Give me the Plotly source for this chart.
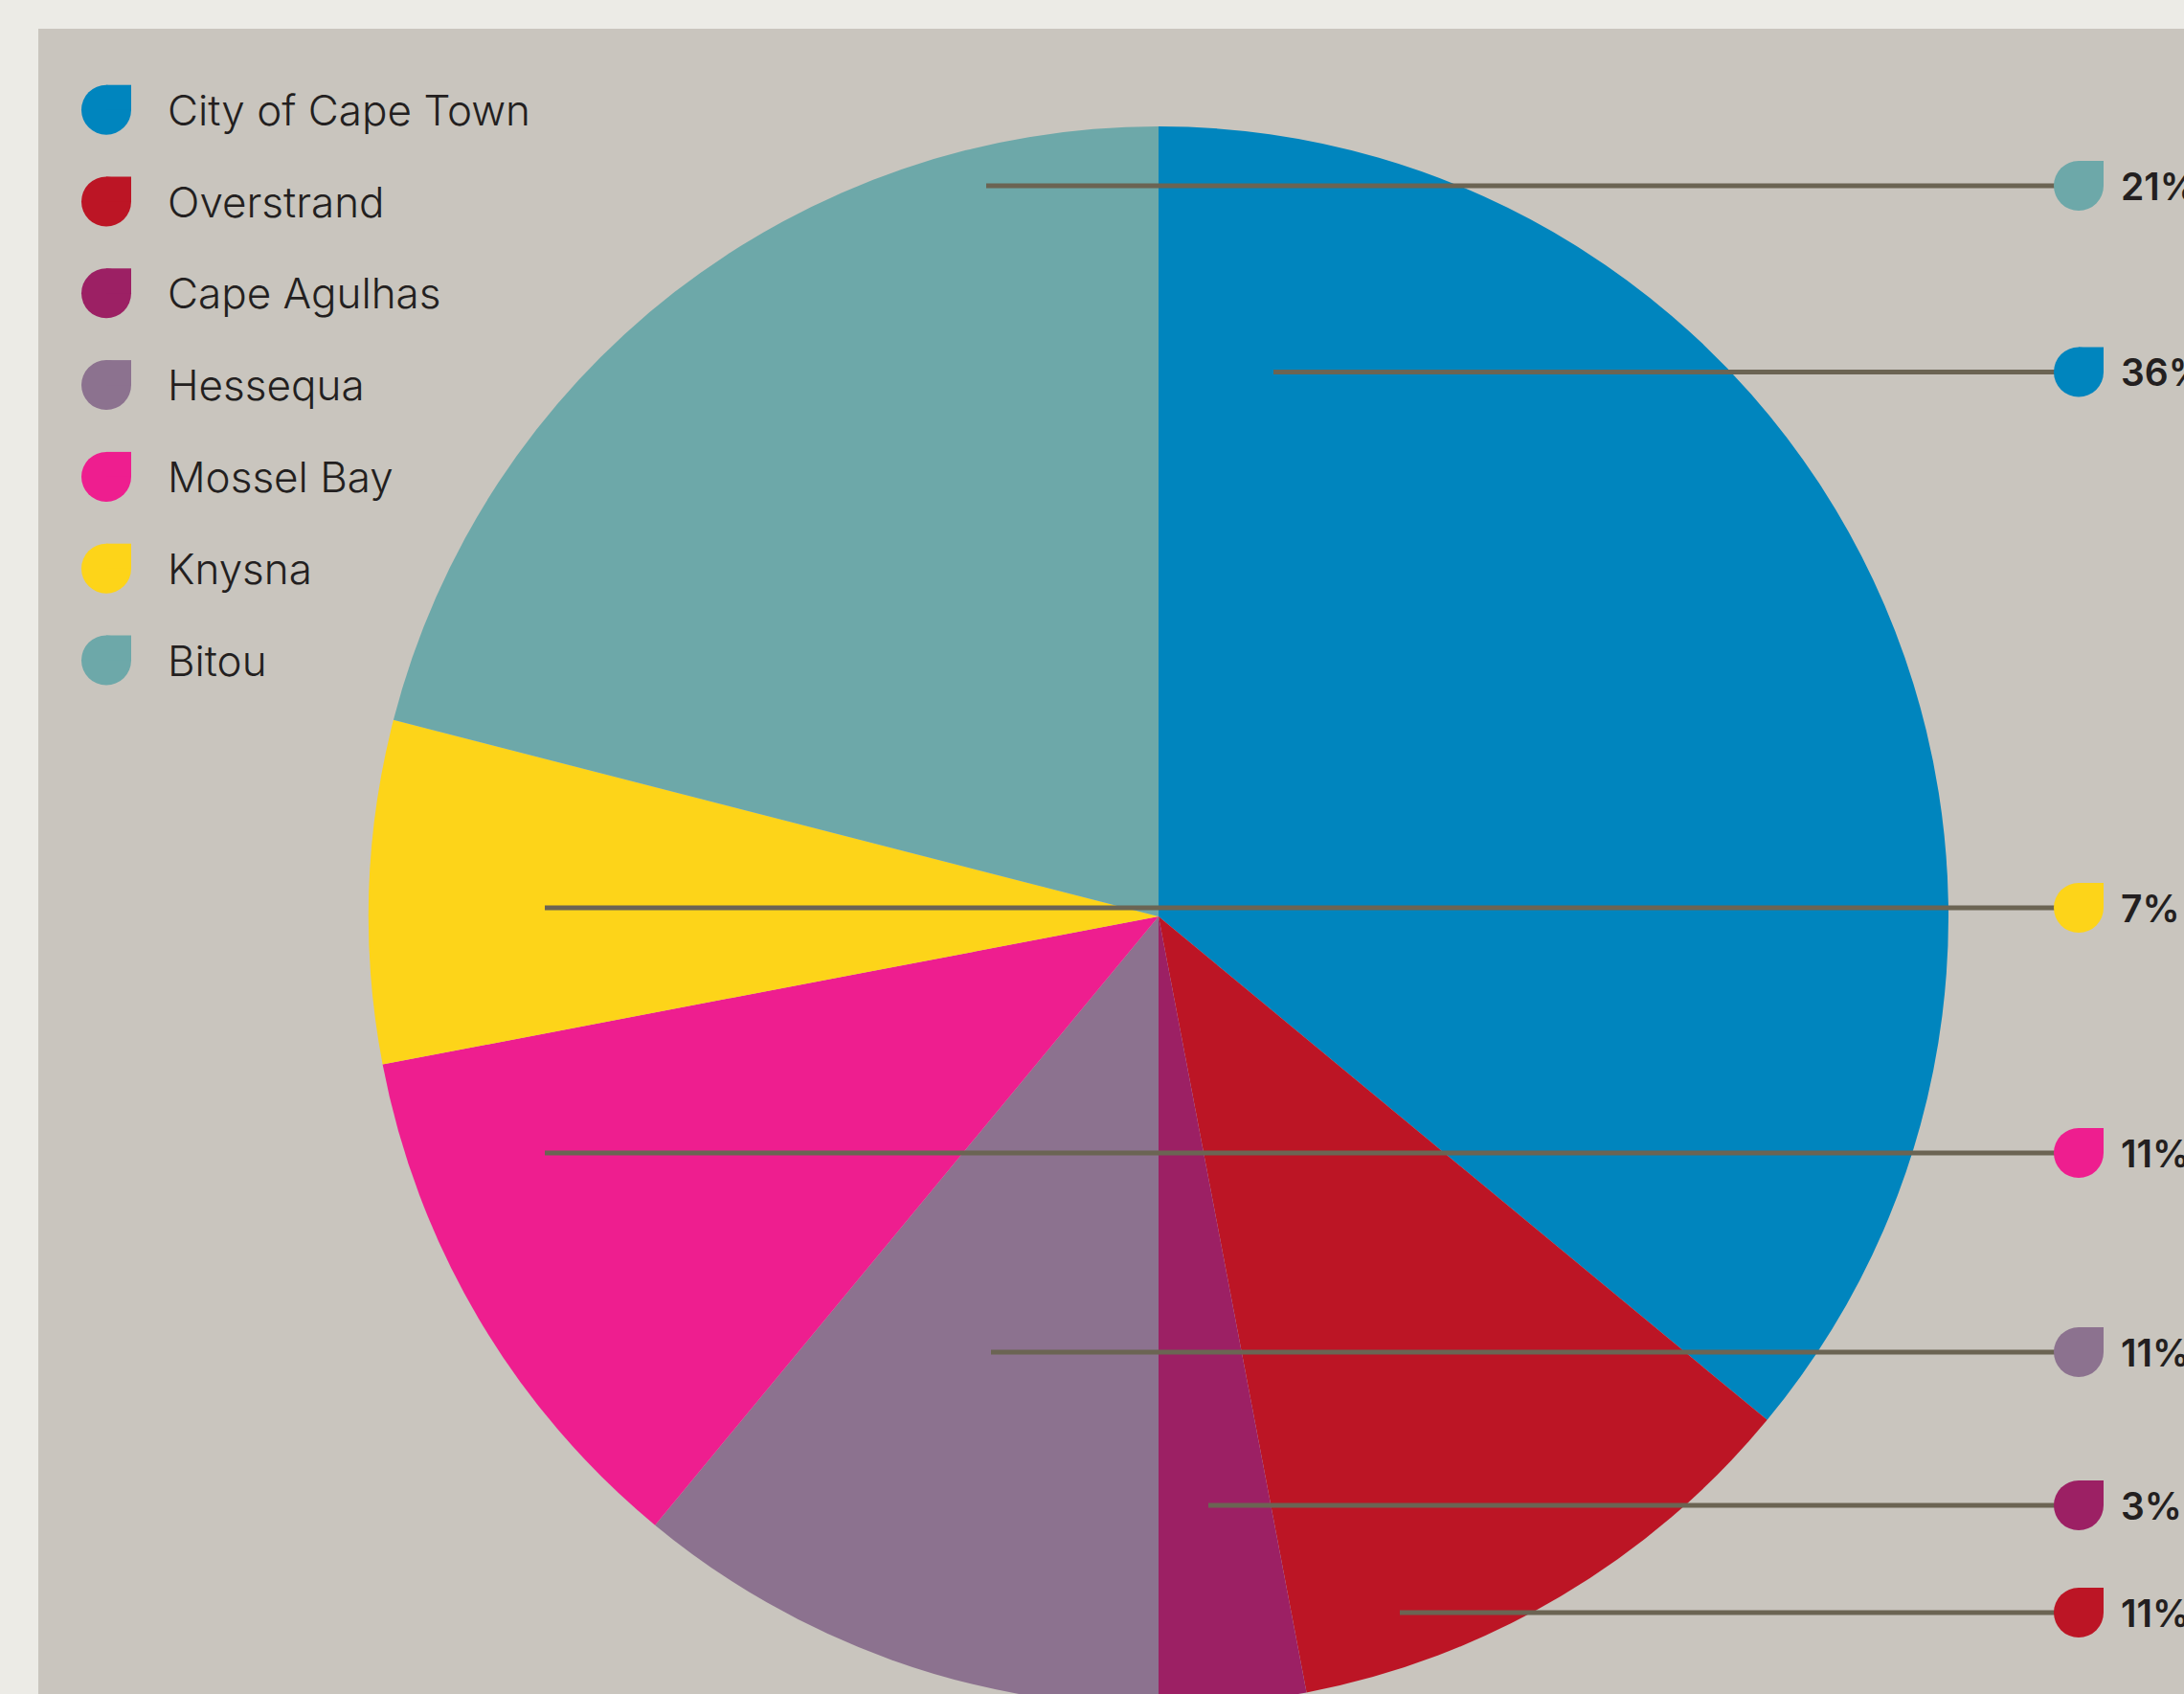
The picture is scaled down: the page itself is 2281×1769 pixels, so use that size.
import plotly.graph_objects as go

# ---------------- data ----------------
categories = ["City of Cape Town", "Overstrand", "Cape Agulhas", "Hessequa",
              "Mossel Bay", "Knysna", "Bitou"]
shares = [36, 11, 3, 11, 11, 7, 21]  # percent
colours = ["#0085BE", "#BC1525", "#9C2064", "#8C728F",
           "#EE1E8F", "#FDD419", "#6DA8A9"]
pct_labels = [f"{v}%" for v in shares]

# right-hand callouts, listed top to bottom
callout_order = ["Bitou", "City of Cape Town", "Knysna", "Mossel Bay",
                 "Hessequa", "Cape Agulhas", "Overstrand"]

# ---------------- layout (pixel units of the canvas) ----------------
W, H = 2281, 1769
H_FIG = 1800                      # pie runs off the bottom edge
CX, CY, R = 1210, 957, 825        # pie centre / radius
PANEL_X0, PANEL_Y0 = 40, 30
LEG_MARK_X, LEG_TEXT_X, LEG_Y0, LEG_DY = 111, 174, 114.7, 95.8
DROP_R = 26
CALLOUT_MARK_X, CALLOUT_TEXT_X = 2171, 2214
callout_y = [194, 388.5, 948, 1204, 1412, 1572, 1684]
callout_x0 = [1030, 1330, 569, 569, 1035, 1262, 1462]

OUTER_BG = "#ECEBE6"
PANEL_BG = "#C9C5BE"
LINE_COLOUR = "#6B6453"
TEXT_COLOUR = "#231F20"
LEG_FONT = "Inter Light, Inter"
PCT_FONT = "Inter"

fig = go.Figure()

fig.add_trace(go.Pie(
    labels=categories, values=shares, sort=False,
    direction="clockwise", rotation=0,
    marker=dict(colors=colours, line=dict(width=0)),
    textinfo="none", hoverinfo="label+percent", showlegend=False,
    domain=dict(x=[(CX - R) / W, (CX + R) / W],
                y=[(H_FIG - CY - R) / H_FIG, (H_FIG - CY + R) / H_FIG]),
))

# invisible anchor trace for the overlay axes (callout points)
fig.add_trace(go.Scatter(
    x=[CALLOUT_MARK_X] * len(callout_order), y=callout_y,
    mode="markers", marker=dict(size=1, opacity=0),
    hovertext=callout_order, hoverinfo="text", showlegend=False,
))

shapes = [dict(type="rect", xref="x", yref="y", x0=PANEL_X0, x1=W + 10,
               y0=PANEL_Y0, y1=H_FIG + 10, fillcolor=PANEL_BG,
               line=dict(width=0), layer="below")]


def drop(xc, yc, colour):
    common = dict(xref="x", yref="y", xsizemode="pixel", ysizemode="pixel",
                  xanchor=xc, yanchor=yc, fillcolor=colour,
                  line=dict(width=0), layer="above")
    return [dict(type="circle", x0=-DROP_R, x1=DROP_R, y0=-DROP_R, y1=DROP_R, **common),
            dict(type="rect", x0=0, x1=DROP_R, y0=0, y1=DROP_R, **common)]


annotations = []

# legend
for i, (name, col) in enumerate(zip(categories, colours)):
    yy = LEG_Y0 + i * LEG_DY
    shapes += drop(LEG_MARK_X, yy, col)
    annotations.append(dict(
        x=LEG_TEXT_X, y=yy, xref="x", yref="y", text=name, showarrow=False,
        xanchor="left", yanchor="middle", borderpad=0,
        font=dict(family=LEG_FONT, size=44, color=TEXT_COLOUR, weight=300)))

# callouts: leader lines first, then drops and labels on top
for j, name in enumerate(callout_order):
    shapes.append(dict(type="line", xref="x", yref="y",
                       x0=callout_x0[j], x1=CALLOUT_MARK_X,
                       y0=callout_y[j], y1=callout_y[j],
                       line=dict(color=LINE_COLOUR, width=5), layer="above"))
for j, name in enumerate(callout_order):
    k = categories.index(name)
    shapes += drop(CALLOUT_MARK_X, callout_y[j], colours[k])
    annotations.append(dict(
        x=CALLOUT_TEXT_X, y=callout_y[j], xref="x", yref="y",
        text=pct_labels[k], showarrow=False, xanchor="left", yanchor="middle",
        borderpad=0,
        font=dict(family=PCT_FONT, size=39, color=TEXT_COLOUR, weight=600)))

fig.update_layout(
    width=W, height=H_FIG, margin=dict(l=0, r=0, t=0, b=0),
    paper_bgcolor=OUTER_BG, plot_bgcolor="rgba(0,0,0,0)",
    xaxis=dict(range=[0, W], visible=False, fixedrange=True, domain=[0, 1]),
    yaxis=dict(range=[H_FIG, 0], visible=False, fixedrange=True, domain=[0, 1]),
    shapes=shapes, annotations=annotations, showlegend=False,
)

post = ("document.body.style.margin='0';"
        "var d=document.getElementById('{plot_id}');"
        "d.style.height='%dpx';d.style.overflow='hidden';"
        "document.documentElement.style.overflow='hidden';" % H)
fig.write_html("out.html", config={"responsive": False, "displayModeBar": False},
               post_script=post)
